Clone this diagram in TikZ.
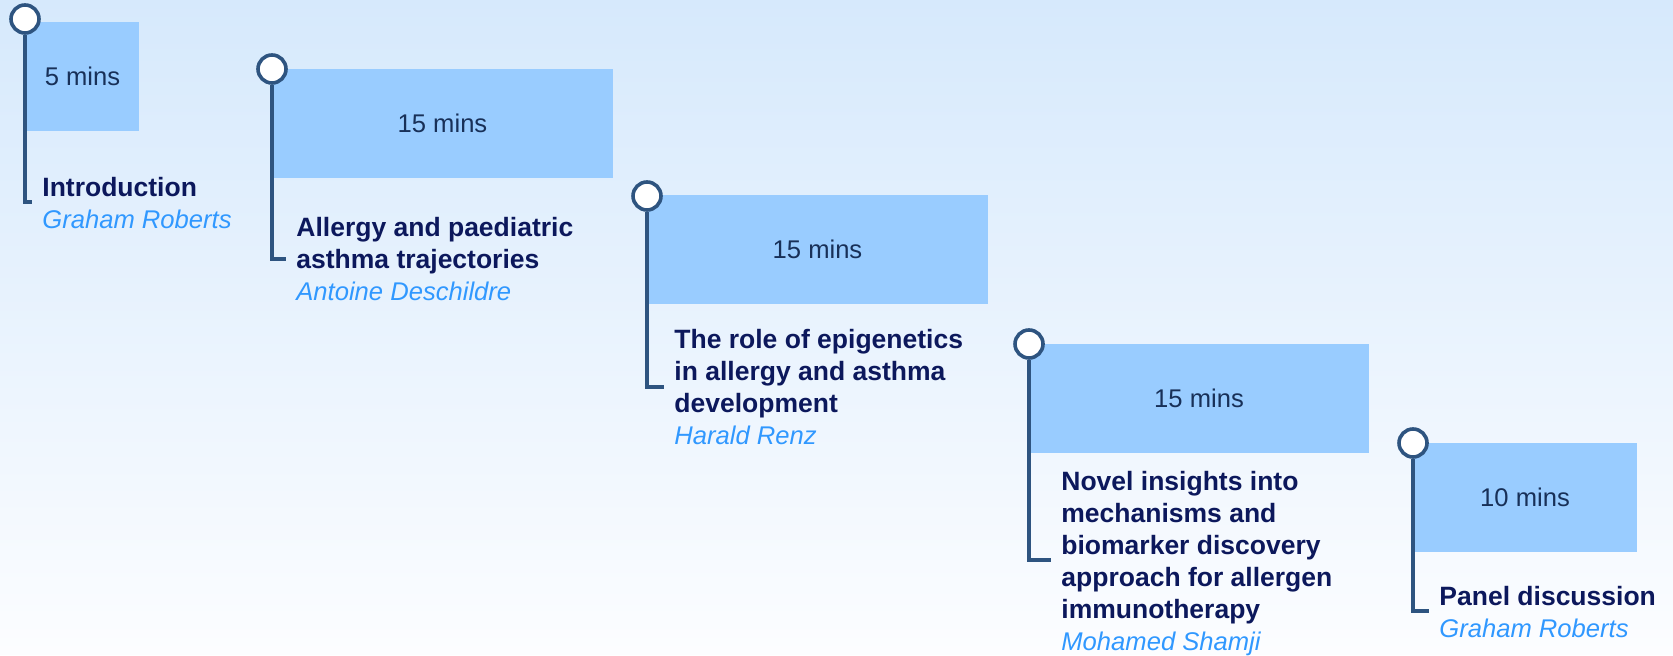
\documentclass[tikz,border=0pt]{standalone}
\usepackage{fontspec}
\setmainfont{Liberation Sans}
\definecolor{bgtop}{RGB}{214,233,252}
\definecolor{bgbot}{RGB}{252,253,255}
\definecolor{boxfill}{RGB}{153,204,255}
\definecolor{pin}{RGB}{46,84,128}
\definecolor{titlec}{RGB}{12,24,92}
\definecolor{authorc}{RGB}{48,152,255}
\definecolor{minsc}{RGB}{24,48,88}
\newcommand{\whoname}[1]{{\color{authorc}\fontsize{12.8}{16}\selectfont\mdseries\itshape #1}}
\begin{document}
\begin{tikzpicture}[x=0.5pt,y=-0.5pt,
  durbox/.style={fill=boxfill, draw=none, inner sep=0pt, outer sep=0pt, anchor=north west,
    minimum height=54.5pt, text=minsc, font=\fontsize{12.8}{15}\selectfont},
  pinc/.style={circle, draw=pin, fill=white, line width=1.8pt, minimum size=14pt, inner sep=0pt},
  pinline/.style={draw=pin, line width=1.8pt},
  talk/.style={anchor=north west, inner sep=0pt, align=left, text=titlec,
    font=\fontsize{13.25}{16}\selectfont\bfseries}
]
\shade[top color=bgtop, bottom color=bgbot] (0,0) rectangle (1673,654);

% boxes
\node[durbox, minimum width=56.5pt] (b1) at (26,22) {5 mins};
\node[durbox, minimum width=170.5pt] (b2) at (272,69) {15 mins};
\node[durbox, minimum width=170.5pt] (b3) at (647,195) {15 mins};
\node[durbox, minimum width=170pt] (b4) at (1029,344) {15 mins};
\node[durbox, minimum width=112pt] (b5) at (1413,443) {10 mins};

% pins
\node[pinc] (c1) at (25,19) {};
\node[pinc] (c2) at (272,69) {};
\node[pinc] (c3) at (647,196) {};
\node[pinc] (c4) at (1029,344) {};
\node[pinc] (c5) at (1413,443) {};

\coordinate (e1) at (32,202);
\coordinate (e2) at (286,259);
\coordinate (e3) at (664,387);
\coordinate (e4) at (1051,560);
\coordinate (e5) at (1429,611);

\draw[pinline] (c1.south) |- (e1);
\draw[pinline] (c2.south) |- (e2);
\draw[pinline] (c3.south) |- (e3);
\draw[pinline] (c4.south) |- (e4);
\draw[pinline] (c5.south) |- (e5);

% talks (first baseline = top + 22.4 px)
\node[talk] (t1) at (42,173.6) {\strut Introduction\\\whoname{Graham Roberts}};
\node[talk] (t2) at (296,213.6) {\strut Allergy and paediatric\\asthma trajectories\\\whoname{Antoine Deschildre}};
\node[talk] (t3) at (674,325.6) {\strut The role of epigenetics\\in allergy and asthma\\development\\\whoname{Harald Renz}};
\node[talk] (t4) at (1061,467.6) {\strut Novel insights into\\mechanisms and\\biomarker discovery\\approach for allergen\\immunotherapy\\\whoname{Mohamed Shamji}};
\node[talk] (t5) at (1439,582.6) {\strut Panel discussion\\\whoname{Graham Roberts}};
\end{tikzpicture}
\end{document}
